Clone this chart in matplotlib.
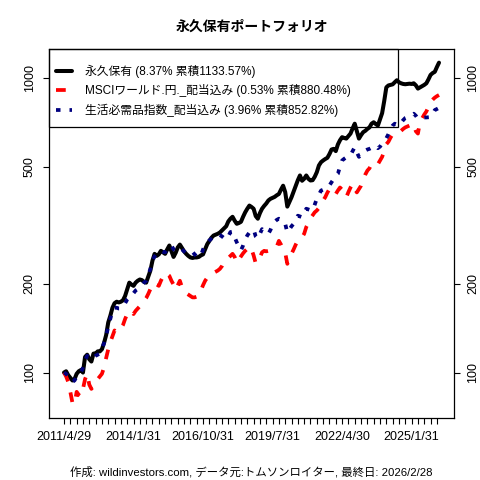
import matplotlib
matplotlib.use("Agg")
import matplotlib.pyplot as plt
from matplotlib.patches import Rectangle
from matplotlib.ticker import FixedLocator, NullLocator, FixedFormatter

plt.rcParams['font.family'] = ['Liberation Sans', 'Noto Sans CJK JP']

# monthly values, 2011/4 .. 2026/2 (179 months), start = 100
permanent = [
    100, 101, 98, 96, 94, 95, 99, 101, 102, 100,
    113, 115, 111, 109, 116, 116, 118, 118, 120, 126,
    134, 148, 156, 166, 172, 174, 173, 174, 176, 182,
    192, 202, 199, 197, 202, 205, 207, 206, 203, 202,
    212, 222, 240, 253, 249, 252, 259, 256, 253, 262,
    270, 258, 247, 255, 266, 272, 265, 258, 253, 249,
    246, 245, 246, 246, 247, 250, 252, 262, 273, 280,
    287, 292, 294, 296, 299, 304, 309, 314, 326, 333,
    338, 328, 320, 322, 325, 338, 350, 360, 369, 365,
    360, 340, 333, 348, 360, 368, 375, 384, 389, 392,
    395, 400, 404, 418, 431, 410, 366, 380, 394, 412,
    431, 450, 467, 448, 455, 467, 455, 449, 450, 462,
    479, 505, 518, 525, 531, 536, 552, 572, 575, 565,
    595, 615, 630, 626, 623, 635, 648, 675, 700, 660,
    623, 640, 655, 662, 672, 680, 700, 708, 698, 690,
    725, 760, 836, 930, 944, 948, 952, 968, 983, 968,
    960, 955, 953, 955, 957, 955, 960, 945, 921, 930,
    940, 948, 960, 990, 1025, 1040, 1050, 1090, 1128,
]
msci_world = [
    100, 97, 93, 86, 79, 78, 86, 84, 83, 88,
    95, 99, 91, 88, 90, 92, 95, 97, 99, 104,
    112, 120, 127, 133, 139, 137, 139, 141, 145, 152,
    158, 162, 161, 158, 162, 165, 168, 170, 175, 179,
    185, 192, 198, 202, 199, 197, 205, 212, 218, 216,
    213, 205, 199, 191, 198, 205, 195, 190, 186, 184,
    182, 180, 180, 181, 183, 190, 198, 205, 210, 213,
    216, 218, 220, 222, 225, 230, 238, 242, 245, 249,
    253, 247, 236, 242, 248, 254, 259, 263, 268, 262,
    250, 235, 238, 246, 256, 259, 258, 259, 260, 262,
    264, 268, 280, 272, 262, 255, 234, 242, 253, 262,
    272, 281, 284, 288, 296, 312, 322, 334, 342, 350,
    355, 362, 372, 384, 394, 408, 420, 422, 410, 404,
    415, 425, 418, 405, 394, 410, 425, 438, 420, 409,
    420, 431, 450, 470, 485, 494, 511, 508, 505, 510,
    525, 540, 565, 596, 608, 628, 645, 650, 652, 655,
    662, 672, 680, 685, 690, 695, 700, 660, 648, 712,
    730, 752, 770, 800, 830, 845, 858, 868, 876,
]
staples = [
    100, 99, 97, 94, 93, 94, 97, 99, 100, 104,
    110, 114, 112, 111, 112, 114, 115, 116, 120, 126,
    133, 143, 152, 162, 166, 166, 165, 165, 167, 172,
    177, 180, 181, 186, 190, 192, 195, 198, 202, 205,
    214, 225, 240, 248, 253, 258, 259, 257, 256, 262,
    268, 270, 262, 260, 264, 266, 262, 258, 254, 256,
    258, 257, 252, 248, 246, 250, 262, 270, 276, 281,
    285, 289, 292, 295, 293, 290, 286, 283, 290, 300,
    301, 288, 277, 268, 260, 270, 283, 292, 299, 304,
    306, 290, 285, 296, 307, 302, 298, 296, 305, 318,
    325, 330, 333, 331, 329, 320, 299, 306, 314, 320,
    332, 341, 339, 337, 348, 360, 358, 356, 355, 372,
    389, 402, 415, 418, 422, 425, 432, 443, 455, 466,
    473, 500, 525, 532, 538, 542, 546, 565, 583, 560,
    540, 550, 560, 567, 572, 575, 580, 585, 589, 578,
    585, 600, 612, 625, 645, 670, 690, 700, 695, 690,
    705, 720, 732, 737, 742, 750, 757, 745, 727, 730,
    733, 735, 735, 736, 737, 755, 779, 785, 792,
]
series_names = [
    "永久保有 (8.37% 累積1133.57%)",
    "MSCIワールド.円._配当込み (0.53% 累積880.48%)",
    "生活必需品指数_配当込み (3.96% 累積852.82%)",
]
date_labels = ["2011/4/29", "2014/1/31", "2016/10/31", "2019/7/31", "2022/4/30", "2025/1/31"]
y_ticks = [100, 200, 500, 1000]

months = list(range(len(permanent)))

fig = plt.figure(figsize=(4.8, 4.8), dpi=100)
ax = fig.add_axes([49 / 480, 62 / 480, 405 / 480, 369 / 480])

ax.plot(months, permanent, color="black", lw=2.9, solid_capstyle="round", label=series_names[0])
ax.plot(months, msci_world, color="red", lw=2.7, dashes=(2.6, 3.0), label=series_names[1])
ax.plot(months, staples, color="#000080", lw=2.7, dashes=(1.2, 2.4), label=series_names[2])

ax.set_yscale("log")
ax.margins(x=0.04, y=0.04)

# quarterly ticks, a label every 11th tick
qticks = list(range(0, len(months), 3))
qlabels = [""] * len(qticks)
for i, lab in enumerate(date_labels):
    qlabels[i * 11] = lab
ax.xaxis.set_major_locator(FixedLocator(qticks))
ax.xaxis.set_major_formatter(FixedFormatter(qlabels))

ax.yaxis.set_major_locator(FixedLocator(y_ticks))
ax.yaxis.set_major_formatter(FixedFormatter([str(v) for v in y_ticks]))
ax.yaxis.set_minor_locator(NullLocator())

ax.tick_params(axis="both", direction="out", length=4.5, width=0.8, labelsize=9, color="black")
ax.tick_params(axis="x", pad=5)
ax.tick_params(axis="y", right=True, labelright=True, labelrotation=90, pad=5)
for lab in ax.get_yticklabels():
    lab.set_va("center")

for sp in ax.spines.values():
    sp.set_linewidth(0.9)
    sp.set_color("black")

leg = ax.legend(loc="upper left", bbox_to_anchor=(0.005, 0.972), frameon=False,
                fontsize=8.5, handlelength=1.3, handletextpad=1.1,
                labelspacing=0.55, borderpad=0.45, borderaxespad=0)
box = Rectangle((0, 1 - 78 / 369), 349 / 405, 78 / 369, transform=ax.transAxes,
                fill=False, edgecolor="black", lw=0.9, clip_on=False)
ax.add_patch(box)

fig.text(251.5 / 480, 1 - 27 / 480, "永久保有ポートフォリオ", ha="center", va="center",
         fontsize=10, fontweight="bold")
fig.text(251.5 / 480, 1 - 472 / 480, "作成: wildinvestors.com, データ元:トムソンロイター, 最終日: 2026/2/28",
         ha="center", va="center", fontsize=8.2)

fig.savefig("out.png", dpi=100)
